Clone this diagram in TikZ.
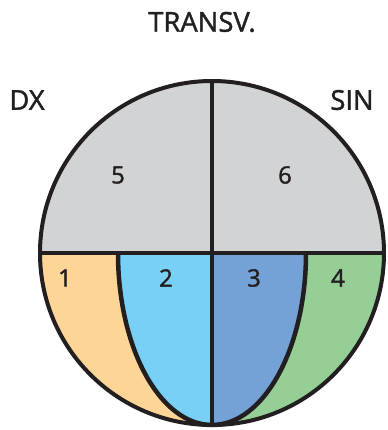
\documentclass[tikz,border=0pt]{standalone}
\usepackage{fontspec}
\setmainfont{Open Sans}
\newfontfamily\heavyfont[FakeBold=1.5]{Open Sans}
\begin{document}
\begin{tikzpicture}[x=1bp,y=1bp,
  lbl/.style={text=txt, inner sep=0pt, font=\heavyfont\fontsize{24}{24}\selectfont},
  hdr/.style={text=txt, inner sep=0pt, font=\heavyfont\fontsize{27.5}{27.5}\selectfont},
  edge/.style={line width=4.5bp, draw=txt}]
\definecolor{txt}{HTML}{231F20}
\definecolor{cgray}{HTML}{D1D3D4}
\definecolor{corange}{HTML}{FDD597}
\definecolor{clblue}{HTML}{78D0F6}
\definecolor{cblue}{HTML}{74A1D6}
\definecolor{cgreen}{HTML}{95CF95}
\def\R{172}
\def\A{94}
\useasboundingbox (-212,-177) rectangle (176,253);
% fills
\fill[cgray] (-\R,0) arc[start angle=180, end angle=0, radius=\R] -- cycle;
\fill[corange] (-\R,0) arc[start angle=180, end angle=270, radius=\R]
   arc[start angle=270, end angle=180, x radius=\A, y radius=\R] -- cycle;
\fill[clblue] (-\A,0) arc[start angle=180, end angle=270, x radius=\A, y radius=\R] -- (0,0) -- cycle;
\fill[cblue] (0,0) -- (0,-\R) arc[start angle=270, end angle=360, x radius=\A, y radius=\R] -- cycle;
\fill[cgreen] (\A,0) arc[start angle=0, end angle=-90, x radius=\A, y radius=\R]
   arc[start angle=270, end angle=360, radius=\R] -- cycle;
% lines
\coordinate (L) at (-\R,0);
\coordinate (Rr) at (\R,0);
\coordinate (T) at (0,\R);
\coordinate (B) at (0,-\R);
\coordinate (EL) at (-\A,0);
\coordinate (ER) at (\A,0);
\draw[edge] (L) -- (Rr);
\draw[edge] (T) -- (B);
\draw[edge] (EL) arc[start angle=180, end angle=360, x radius=\A, y radius=\R];
\draw[line width=4bp, draw=txt] (0,0) circle[radius=\R];
% labels
\node[hdr] (transv) at (-10,231) {TRANSV.};
\node[hdr] (dx) at (-185,153) {DX};
\node[hdr] (sin) at (140,153) {SIN};
\node[lbl] (n5) at (-94,78) {5};
\node[lbl] (n6) at (73,78) {6};
\node[lbl] (n1) at (-147,-25) {1};
\node[lbl] (n2) at (-46,-25) {2};
\node[lbl] (n3) at (42,-25) {3};
\node[lbl] (n4) at (126,-25) {4};
\end{tikzpicture}
\end{document}
